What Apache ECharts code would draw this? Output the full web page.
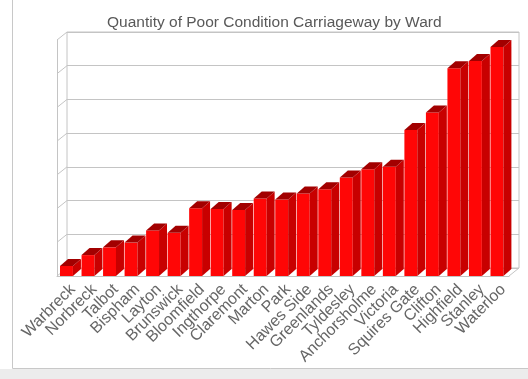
<!DOCTYPE html>
<html>
<head>
<meta charset="utf-8">
<script src="https://cdn.jsdelivr.net/npm/echarts@6/dist/echarts.min.js"></script>
<style>
  html, body { margin: 0; padding: 0; background: #fff; }
  #chart { width: 528px; height: 379px; }
</style>
</head>
<body>
<div id="chart"></div>
<script>
// Wards, ordered by quantity of poor condition carriageway
const wards = ['Warbreck', 'Norbreck', 'Talbot', 'Bispham', 'Layton', 'Brunswick', 'Bloomfield',
  'Ingthorpe', 'Claremont', 'Marton', 'Park', 'Hawes Side', 'Greenlands', 'Tyldesley',
  'Anchorsholme', 'Victoria', 'Squires Gate', 'Clifton', 'Highfield', 'Stanley', 'Waterloo'];
const quantities = [0.30, 0.62, 0.85, 0.99, 1.35, 1.28, 2.01, 1.99, 1.96, 2.30, 2.27, 2.45,
  2.57, 2.92, 3.17, 3.24, 4.33, 4.85, 6.16, 6.38, 6.79];
const yTicks = [0, 1, 2, 3, 4, 5, 6, 7];

const LINE = '#c4c4c4';
const FRONT = '#ff0606', SIDE = '#c80000', TOP = '#a20000';
const WALL_DX = 10, WALL_DY = -8;   // depth of the back wall
const BAR_DX = 8, BAR_DY = -7;      // depth of each bar

const chart = echarts.init(document.getElementById('chart'));

const plotW = 452, plotH = 236;

chart.setOption({
  animation: false,
  title: {
    text: 'Quantity of Poor Condition Carriageway by Ward',
    left: 102, top: 10,
    textStyle: { fontFamily: 'Liberation Sans', fontSize: 15.5, fontWeight: 'normal', color: '#595959' }
  },
  graphic: [
    { type: 'rect', z: -10, shape: { x: 0, y: 369, width: 528, height: 10 }, style: { fill: '#ececec' } },
    { type: 'rect', z: -10, shape: { x: 12.5, y: -2, width: 530, height: 370.5 },
      style: { fill: 'none', stroke: '#c8c8c8', lineWidth: 1 } }
  ],
  grid: [
    { left: 57, top: 40, width: plotW, height: plotH },                       // front plane
    { left: 57 + WALL_DX, top: 40 + WALL_DY, width: plotW, height: plotH,     // back wall
      show: true, borderColor: LINE, borderWidth: 1 },
    { left: 62, top: 40, width: plotW, height: plotH }                        // category labels
  ],
  xAxis: [
    { type: 'category', gridIndex: 0, data: wards,
      axisLine: { show: true, lineStyle: { color: LINE } },
      axisTick: { show: false }, axisLabel: { show: false } },
    { type: 'category', gridIndex: 1, data: wards, show: false },
    { type: 'category', gridIndex: 2, data: wards,
      axisLine: { show: false }, axisTick: { show: false },
      axisLabel: { interval: 0, rotate: 45, margin: 11, fontSize: 16,
        fontFamily: 'Liberation Sans', color: '#666' } }
  ],
  yAxis: [
    { type: 'value', gridIndex: 0, min: 0, max: 7, interval: 1,
      axisLine: { show: true, lineStyle: { color: LINE } },
      axisTick: { show: false }, axisLabel: { show: false }, splitLine: { show: false } },
    { type: 'value', gridIndex: 1, min: 0, max: 7, interval: 1,
      axisLine: { show: false }, axisTick: { show: false }, axisLabel: { show: false },
      splitLine: { show: true, lineStyle: { color: LINE, width: 1 } } },
    { type: 'value', gridIndex: 2, min: 0, max: 7, show: false }
  ],
  series: [
    {
      // side wall and floor edges joining the front plane to the back wall
      type: 'custom', xAxisIndex: 0, yAxisIndex: 0, z: 1, silent: true,
      data: yTicks.map(t => [0, t]),
      renderItem(params, api) {
        const cs = params.coordSys;
        const y = api.coord([0, api.value(1)])[1];
        const children = [{
          type: 'line',
          shape: { x1: cs.x, y1: y, x2: cs.x + WALL_DX, y2: y + WALL_DY },
          style: { stroke: LINE, lineWidth: 1 }
        }];
        if (api.value(1) === 0) {
          children.push({
            type: 'line',
            shape: { x1: cs.x + cs.width, y1: y, x2: cs.x + cs.width + WALL_DX, y2: y + WALL_DY },
            style: { stroke: LINE, lineWidth: 1 }
          });
        }
        return { type: 'group', children };
      }
    },
    {
      type: 'custom', xAxisIndex: 0, yAxisIndex: 0, z: 3,
      data: quantities.map((v, i) => [i, v]),
      encode: { x: 0, y: 1 },
      renderItem(params, api) {
        const i = api.value(0), v = api.value(1);
        const top = api.coord([i, v]);
        const base = api.coord([i, 0]);
        const bw = api.size([1, 0])[0];
        const xl = top[0] - 0.36 * bw, xr = xl + 0.6 * bw;
        const yt = top[1], yb = base[1];
        return {
          type: 'group',
          children: [
            { type: 'polygon', shape: { points: [[xl, yb], [xl, yt], [xr, yt], [xr, yb]] },
              style: { fill: FRONT } },
            { type: 'polygon', shape: { points: [[xr, yb], [xr, yt], [xr + BAR_DX, yt + BAR_DY], [xr + BAR_DX, yb + BAR_DY]] },
              style: { fill: SIDE } },
            { type: 'polygon', shape: { points: [[xl, yt], [xr, yt], [xr + BAR_DX, yt + BAR_DY], [xl + BAR_DX, yt + BAR_DY]] },
              style: { fill: TOP } }
          ]
        };
      }
    }
  ]
});
</script>
</body>
</html>
